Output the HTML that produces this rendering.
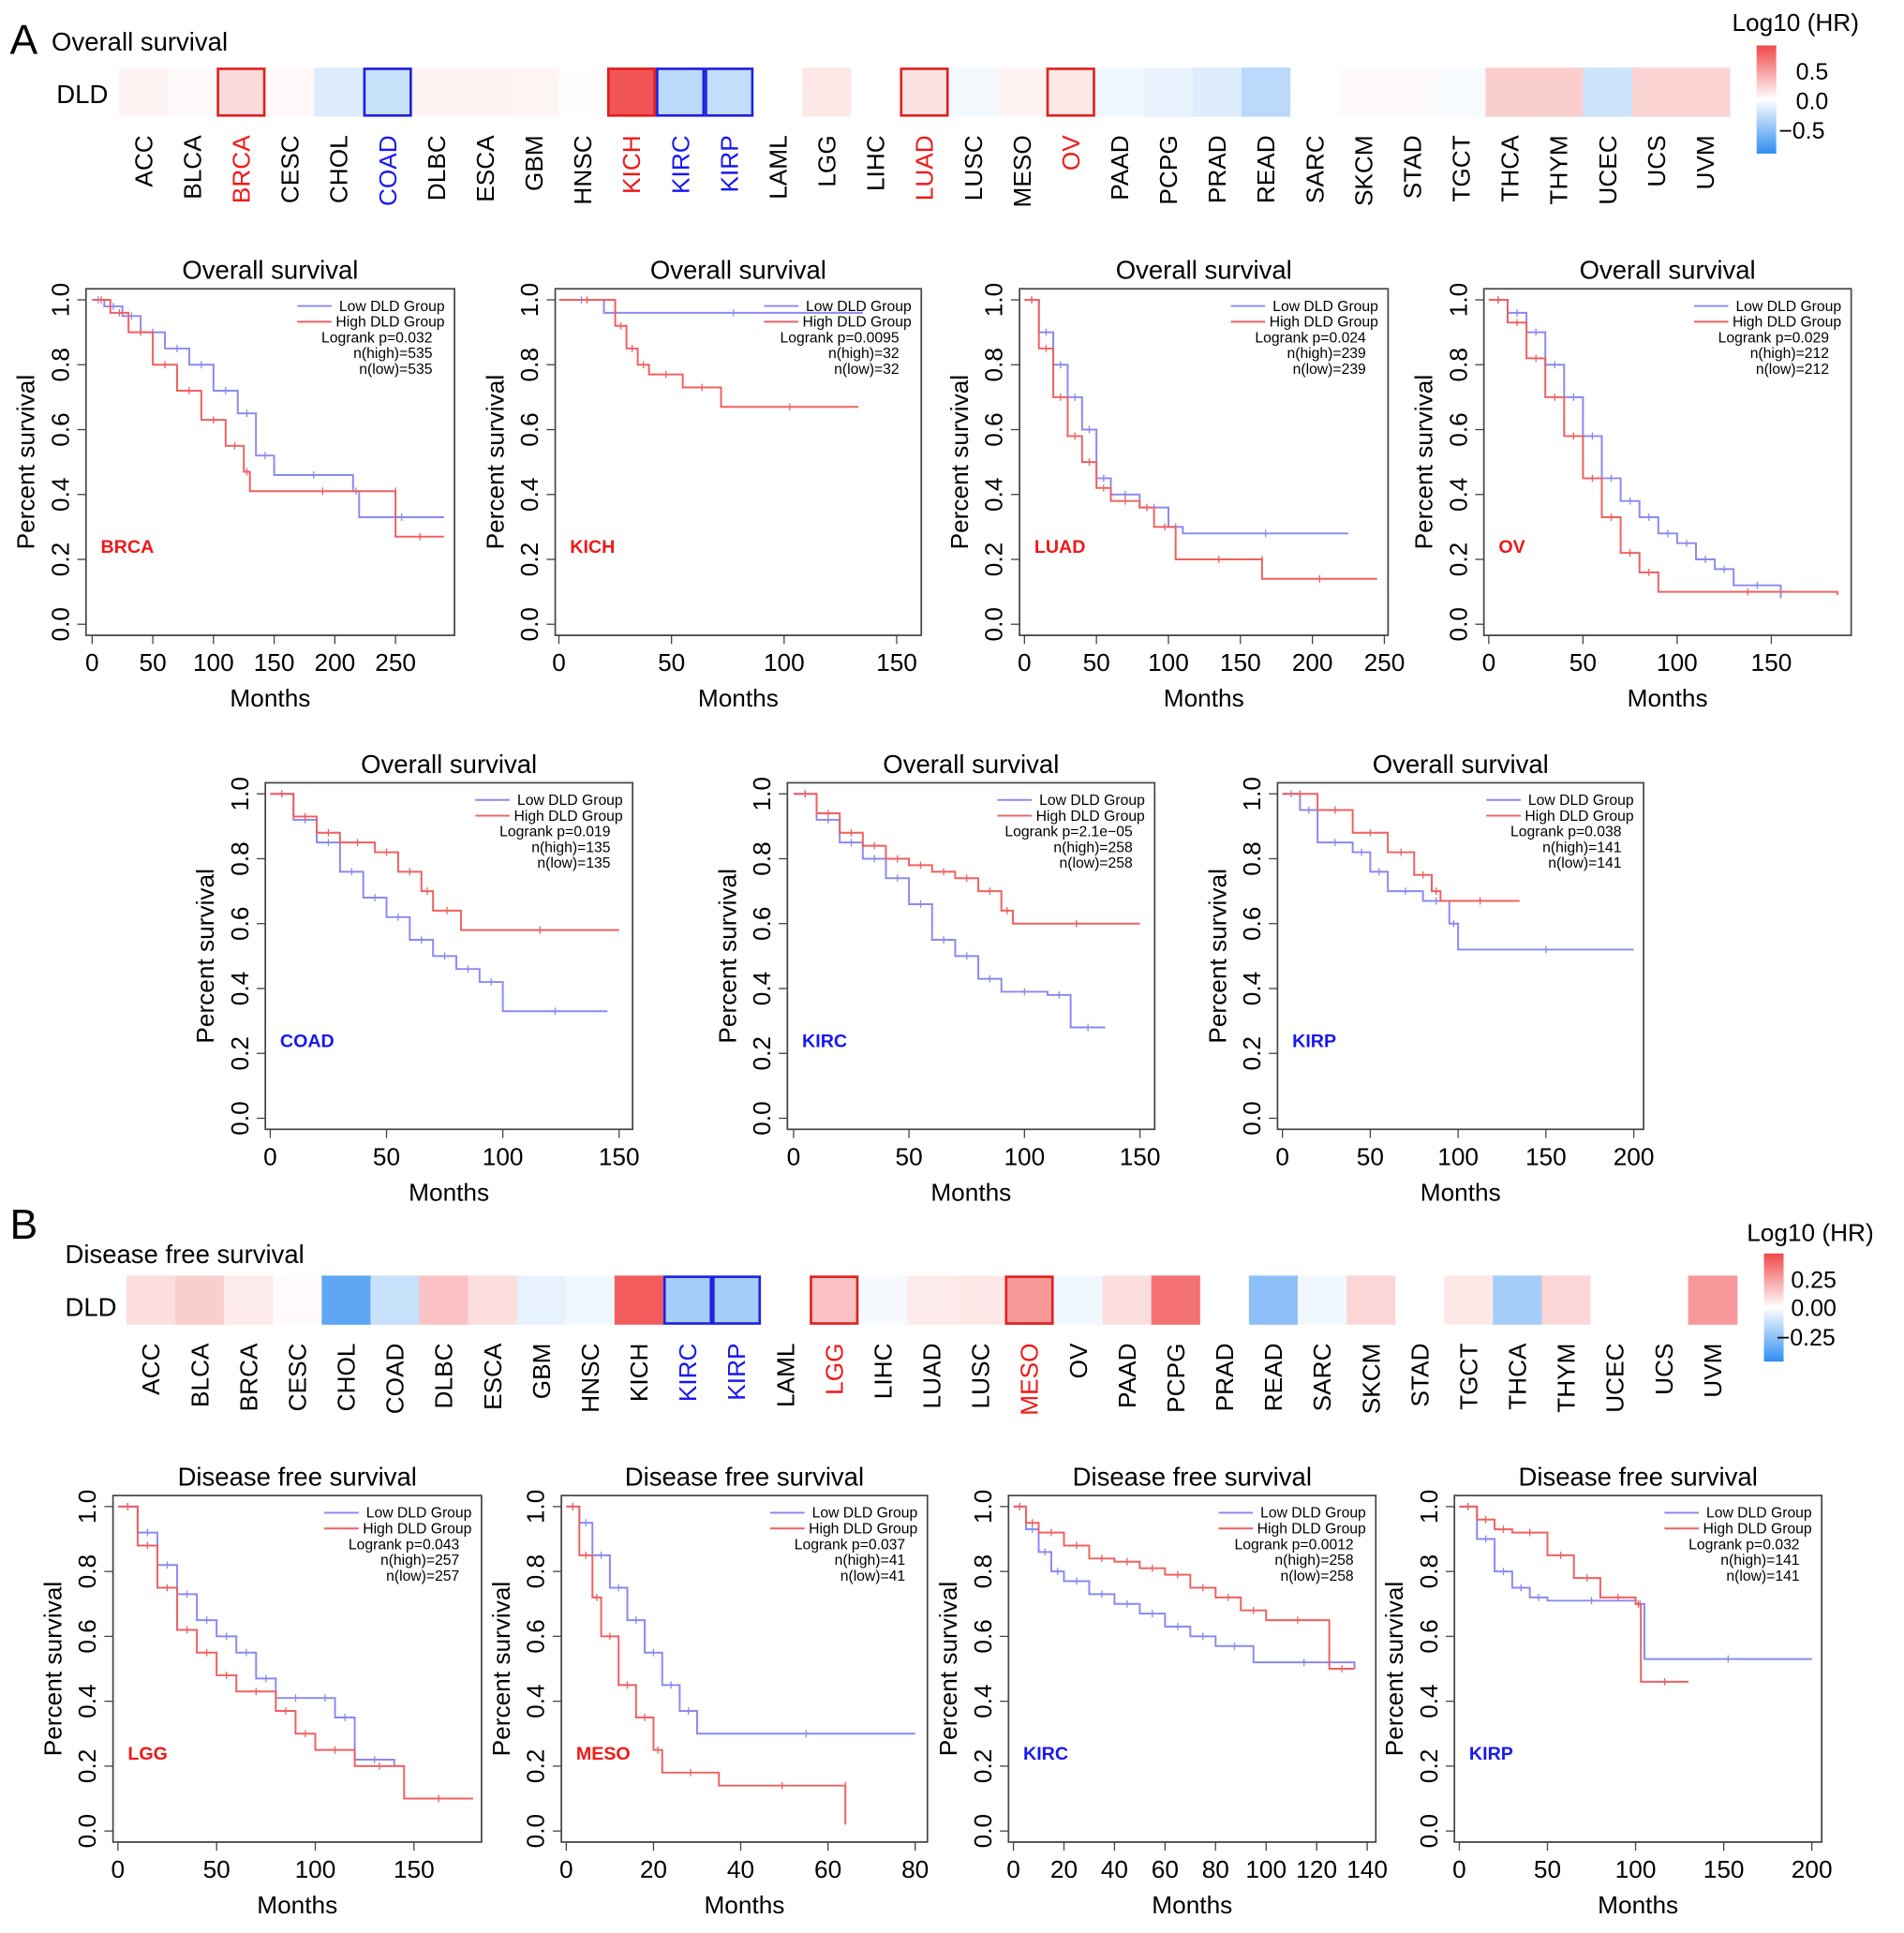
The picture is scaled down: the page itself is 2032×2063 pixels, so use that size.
<!DOCTYPE html>
<html><head><meta charset="utf-8"><style>
html,body{margin:0;padding:0;background:#fff;}
svg{display:block;font-family:"Liberation Sans",Arial,sans-serif;}
</style></head><body>
<svg id="fig" xmlns="http://www.w3.org/2000/svg" width="2032" height="2063" viewBox="0 0 1550 1573" preserveAspectRatio="none">
<defs>
<linearGradient id="cbar" x1="0" y1="0" x2="0" y2="1">
<stop offset="0" stop-color="#f04848"/><stop offset="0.5" stop-color="#ffffff"/><stop offset="1" stop-color="#2f8ef0"/>
</linearGradient>
</defs>
<text x="8" y="44" font-size="34">A</text>
<text x="42" y="41" font-size="21">Overall survival</text>
<text x="46" y="84" font-size="21">DLD</text>
<text x="1410" y="25" font-size="20">Log10 (HR)</text>
<rect x="1430" y="37" width="16" height="88" fill="url(#cbar)"/>
<text x="1462" y="65" font-size="19">0.5</text>
<text x="1462" y="89" font-size="19">0.0</text>
<text x="1448" y="113" font-size="19">−0.5</text>

<text x="8" y="1008" font-size="34">B</text>
<text x="53" y="1028" font-size="21">Disease free survival</text>
<text x="53" y="1071" font-size="21">DLD</text>
<text x="1422" y="1010" font-size="20">Log10 (HR)</text>
<rect x="1436" y="1020" width="16" height="88" fill="url(#cbar)"/>
<text x="1458" y="1048" font-size="19">0.25</text>
<text x="1458" y="1071" font-size="19">0.00</text>
<text x="1446" y="1095" font-size="19">−0.25</text>
<g id="plots"></g>
</svg>
<script>
const cancers=["ACC","BLCA","BRCA","CESC","CHOL","COAD","DLBC","ESCA","GBM","HNSC","KICH","KIRC","KIRP","LAML","LGG","LIHC","LUAD","LUSC","MESO","OV","PAAD","PCPG","PRAD","READ","SARC","SKCM","STAD","TGCT","THCA","THYM","UCEC","UCS","UVM"];
const hrA=[0.05,0.02,0.15,0.03,-0.12,-0.2,0.05,0.05,0.04,0.01,0.7,-0.25,-0.22,0,0.1,0,0.12,-0.04,0.05,0.1,-0.05,-0.08,-0.12,-0.25,0,0.02,0.02,-0.03,0.2,0.2,-0.18,0.18,0.18];
const sigA={"BRCA":"red","KICH":"red","LUAD":"red","OV":"red","COAD":"blue","KIRC":"blue","KIRP":"blue"};
const hrB=[0.08,0.12,0.05,0.01,-0.35,-0.12,0.15,0.08,-0.05,-0.03,0.4,-0.2,-0.2,0,0.15,-0.02,0.05,0.06,0.25,-0.03,0.08,0.35,0,-0.25,-0.03,0.1,0,0.06,-0.2,0.1,0,0,0.25];
const sigB={"KIRC":"blue","KIRP":"blue","LGG":"red","MESO":"red"};

const kmTimes={
A1:{low:[0,10,25,40,60,80,100,120,135,150,215,220,290],high:[0,15,30,50,70,90,110,125,130,250,250,290]},
A2:{low:[0,20,135],high:[0,25,30,35,40,55,72,133]},
A3:{low:[0,10,20,30,40,50,60,80,100,110,225],high:[0,10,20,30,40,50,60,80,90,105,165,165,245]},
A4:{low:[0,10,20,30,40,50,60,70,80,90,100,110,120,130,155],high:[0,10,20,30,40,50,60,70,80,90,185]},
A5:{low:[0,10,20,30,40,50,60,70,80,90,100,145],high:[0,10,20,30,45,55,65,70,82,150]},
A6:{low:[0,10,20,30,40,50,60,70,80,90,110,120,135],high:[0,10,20,30,40,50,60,70,80,90,95,150]},
A7:{low:[0,10,20,40,50,60,80,95,100,200],high:[0,20,40,60,75,85,90,135]},
B1:{low:[0,10,20,30,40,50,60,70,80,100,110,120,140],high:[0,10,20,30,40,50,60,80,90,100,120,145,180]},
B2:{low:[0,3,6,10,14,18,22,26,30,80],high:[0,3,6,8,12,16,20,22,35,64,64]},
B3:{low:[0,5,10,15,20,30,40,50,60,70,80,95,135],high:[0,5,10,20,30,40,50,60,70,80,90,100,125,135]},
B4:{low:[0,10,20,30,40,50,100,105,200],high:[0,10,20,30,50,65,80,100,103,130]}
};
const kmSurv={
A1:{low:[1,0.98,0.95,0.9,0.85,0.8,0.72,0.65,0.52,0.46,0.41,0.33,0.33],high:[1,0.96,0.9,0.8,0.72,0.63,0.55,0.47,0.41,0.41,0.27,0.27]},
A2:{low:[1,0.96,0.96],high:[1,0.92,0.85,0.8,0.77,0.73,0.67,0.67]},
A3:{low:[1,0.9,0.8,0.7,0.6,0.45,0.4,0.36,0.3,0.28,0.28],high:[1,0.85,0.7,0.58,0.5,0.42,0.38,0.36,0.3,0.2,0.2,0.14,0.14]},
A4:{low:[1,0.96,0.9,0.8,0.7,0.58,0.45,0.38,0.33,0.28,0.25,0.2,0.17,0.12,0.08],high:[1,0.93,0.82,0.7,0.58,0.45,0.33,0.22,0.16,0.1,0.09]},
A5:{low:[1,0.92,0.85,0.76,0.68,0.62,0.55,0.5,0.46,0.42,0.33,0.33],high:[1,0.93,0.88,0.85,0.82,0.76,0.7,0.64,0.58,0.58]},
A6:{low:[1,0.92,0.85,0.8,0.74,0.66,0.55,0.5,0.43,0.39,0.38,0.28,0.28],high:[1,0.94,0.88,0.84,0.8,0.78,0.76,0.74,0.7,0.64,0.6,0.6]},
A7:{low:[1,0.95,0.85,0.82,0.76,0.7,0.67,0.6,0.52,0.52],high:[1,0.95,0.88,0.82,0.75,0.7,0.67,0.67]},
B1:{low:[1,0.92,0.82,0.73,0.65,0.6,0.55,0.47,0.41,0.41,0.35,0.22,0.2],high:[1,0.88,0.75,0.62,0.55,0.48,0.43,0.37,0.3,0.25,0.2,0.1,0.1]},
B2:{low:[1,0.95,0.85,0.75,0.65,0.55,0.45,0.37,0.3,0.3],high:[1,0.85,0.72,0.6,0.45,0.35,0.25,0.18,0.14,0.14,0.02]},
B3:{low:[1,0.93,0.86,0.8,0.77,0.73,0.7,0.67,0.63,0.6,0.57,0.52,0.5],high:[1,0.95,0.92,0.88,0.84,0.83,0.81,0.79,0.75,0.72,0.68,0.65,0.5,0.5]},
B4:{low:[1,0.9,0.8,0.75,0.72,0.71,0.7,0.53,0.53],high:[1,0.96,0.93,0.92,0.85,0.78,0.72,0.7,0.46,0.46]}
};
const kmTicks={A1:[0,50,100,150,200,250],A2:[0,50,100,150],A3:[0,50,100,150,200,250],A4:[0,50,100,150],A5:[0,50,100,150],A6:[0,50,100,150],A7:[0,50,100,150,200],B1:[0,50,100,150],B2:[0,20,40,60,80],B3:[0,20,40,60,80,100,120,140],B4:[0,50,100,150,200]};
const kmStats={A1:["0.032","535","535"],A2:["0.0095","32","32"],A3:["0.024","239","239"],A4:["0.029","212","212"],A5:["0.019","135","135"],A6:["2.1e−05","258","258"],A7:["0.038","141","141"],B1:["0.043","257","257"],B2:["0.037","41","41"],B3:["0.0012","258","258"],B4:["0.032","141","141"]};
const kmNames={A1:"BRCA",A2:"KICH",A3:"LUAD",A4:"OV",A5:"COAD",A6:"KIRC",A7:"KIRP",B1:"LGG",B2:"MESO",B3:"KIRC",B4:"KIRP"};
const yTicks=[0,0.2,0.4,0.6,0.8,1.0];

// layout: box left, top, right, bottom, pixel of x=0, pixel of last tick
const layout={
A1:[70,235,370,517,75,322],A2:[452,235,750,517,455,730],A3:[830,235,1130,517,834,1127],A4:[1208,235,1507,517,1212,1442],
A5:[216,637,515,919,220,504],A6:[641,637,940,919,646,928],A7:[1040,637,1338,919,1044,1330],
B1:[92,1217,392,1499,96,337],B2:[457,1217,755,1499,461,745],B3:[821,1217,1120,1499,825,1113],B4:[1184,1217,1483,1499,1188,1475]
};
const NS="http://www.w3.org/2000/svg";
const root=document.getElementById("plots");
function mk(tag,attrs,parent){const e=document.createElementNS(NS,tag);for(const k in attrs)e.setAttribute(k,attrs[k]);(parent||root).appendChild(e);return e;}

function heat(vals,sig,x0,y0,w,h,maxv,lblTop,nameP){
  const cw=w/vals.length;
  vals.forEach((v,i)=>{
    const t=Math.min(1,Math.abs(v)/maxv);
    let c;
    if(v>=0)c=`rgb(${255-t*15},${255-t*183},${255-t*183})`;
    else c=`rgb(${255-t*205},${255-t*113},${255-t*15})`;
    const r=mk("rect",{x:x0+i*cw,y:y0,width:cw+0.5,height:h,fill:c});
    
    
  });
  vals.forEach((v,i)=>{
    const s=sig[cancers[i]];
    if(s){const b=mk("rect",{x:x0+i*cw+1,y:y0+1,width:cw-2,height:h-2,fill:"none",stroke:s=="red"?"#e02020":"#2020e0","stroke-width":2});
      
      }
    const cx=x0+i*cw+cw/2+7;
    const t=mk("text",{x:cx,y:lblTop,"font-size":20,"text-anchor":"end",transform:`rotate(-90 ${cx} ${lblTop})`,fill:s=="red"?"#f01818":s=="blue"?"#1818f0":"#000"});
    t.textContent=cancers[i];
    
    
  });
}
heat(hrA,sigA,97,55,1311,40,0.75,110,"heatmap-a");
heat(hrB,sigB,103,1038,1311,40,0.45,1093,"heatmap-b");

function km(id,title){
  const [L,T,R,B,x0,xl]=layout[id];
  const ticks=kmTicks[id];
  const ppu=(xl-x0)/ticks[ticks.length-1];
  const xs=v=>x0+v*ppu;
  const yTop=T+9,yBot=B-9;
  const ys=v=>yBot-v*(yBot-yTop);
  const g=mk("g",{});
  
  
  const box=mk("rect",{x:L,y:T,width:R-L,height:B-T,fill:"none",stroke:"#444","stroke-width":1.3},g);
  
  
  const tt=mk("text",{x:(L+R)/2,y:T-8,"font-size":21,"text-anchor":"middle"},g);
  tt.textContent=title;
  
  
  const xt=mk("text",{x:(L+R)/2,y:B+58,"font-size":20,"text-anchor":"middle"},g);
  xt.textContent="Months";
  
  
  const yc=(T+B)/2,yx=L-42;
  const yt=mk("text",{x:yx,y:yc,"font-size":20,"text-anchor":"middle",transform:`rotate(-90 ${yx} ${yc})`},g);
  yt.textContent="Percent survival";
  
  
  ticks.forEach(v=>{
    const x=xs(v);
    mk("line",{x1:x,x2:x,y1:B,y2:B+7,stroke:"#444"},g);
    const l=mk("text",{x:x,y:B+29,"font-size":20,"text-anchor":"middle"},g);
    l.textContent=v;
    
    
  });
  mk("line",{x1:xs(ticks[0]),x2:xs(ticks[ticks.length-1]),y1:B,y2:B,stroke:"#444"},g);
  yTicks.forEach(v=>{
    const y=ys(v);
    mk("line",{x1:L-7,x2:L,y1:y,y2:y,stroke:"#444"},g);
    const lx=L-14;
    const l=mk("text",{x:lx,y:y,"font-size":20,"text-anchor":"middle",transform:`rotate(-90 ${lx} ${y})`},g);
    l.textContent=v.toFixed(1);
    
    
  });
  ["low","high"].forEach(k=>{
    const t=kmTimes[id][k],s=kmSurv[id][k];
    let d=`M${xs(t[0])},${ys(s[0])}`;
    for(let i=1;i<t.length;i++){d+=` H${xs(t[i])} V${ys(s[i])}`;}
    const p=mk("path",{d:d,fill:"none",stroke:k=="low"?"#8a8af0":"#f06060","stroke-width":1.5},g);
    
    
    for(let i=1;i<t.length;i++){
      const xm=xs((t[i-1]+t[i])/2),ym=ys(s[i-1]);
      mk("line",{x1:xm,x2:xm,y1:ym-3,y2:ym+3,stroke:k=="low"?"#8a8af0":"#f06060"},g);
    }
  });
  const st=kmStats[id];
  const lines=[["Low DLD Group","#8a8af0"],["High DLD Group","#f06060"],["Logrank p="+st[0]],["n(high)="+st[1]],["n(low)="+st[2]]];
  const rx=R-8;
  lines.forEach((ln,i)=>{
    const y=T+18+i*12.8;
    const tx=mk("text",{x:i<2?rx:rx-10-(i-2)*0,y:y,"font-size":12,"text-anchor":"end"},g);
    tx.textContent=ln[0];
    
    
    if(ln[1]){mk("line",{x1:rx-120,x2:rx-92,y1:y-4,y2:y-4,stroke:ln[1],"stroke-width":1.5},g);}
  });
  const nm=kmNames[id];
  const red=["BRCA","KICH","LUAD","OV","LGG","MESO"].includes(nm);
  const cl=mk("text",{x:L+12,y:ys(0.22),"font-size":15,"font-weight":"bold",fill:red?"#f01818":"#1818f0"},g);
  cl.textContent=nm;
  
  
}
["A1","A2","A3","A4","A5","A6","A7"].forEach(id=>km(id,"Overall survival"));
["B1","B2","B3","B4"].forEach(id=>km(id,"Disease free survival"));
</script>
</body></html>
